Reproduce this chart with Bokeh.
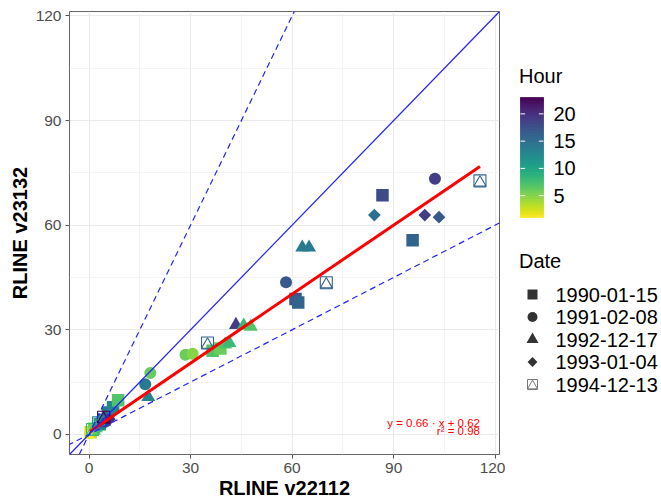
import numpy as np
from bokeh.plotting import figure
from bokeh.models import Range1d, FixedTicker, Slope, Label, LinearColorMapper
from bokeh.transform import transform
from bokeh.palettes import Viridis256
from bokeh.layouts import row
from bokeh.embed import file_html
from bokeh.resources import INLINE
from bokeh.core.properties import value

# Hourly concentrations: RLINE v22112 (x) against RLINE v23132 (y), per date
dates = ["1990-01-15", "1991-02-08", "1992-12-17", "1993-01-04", "1994-12-13"]

x_1990 = [0.5, 1.5, 3.2, 4.5, 5.6, 7.1, 8.6, 36.5, 38.8, 61.0, 61.8, 86.7, 95.6]
y_1990 = [0.6, 1.6, 2.9, 4.2, 6.3, 7.8, 9.8, 24.0, 24.6, 38.8, 37.8, 68.6, 55.7]
h_1990 = [3, 6, 11, 14, 14, 13, 7, 7, 6, 17, 16, 18, 16]

x_1991 = [0.3, 1.2, 2.5, 3.8, 4.8, 16.6, 18.1, 28.5, 30.6, 58.2, 102.2]
y_1991 = [0.4, 1.0, 2.2, 3.1, 3.6, 14.4, 17.6, 22.8, 23.1, 43.6, 73.3]
h_1991 = [2, 5, 9, 12, 17, 14, 6, 6, 5, 17, 19]

x_1992 = [0.8, 2.0, 3.5, 5.0, 17.5, 40.2, 41.5, 43.4, 45.7, 47.8, 63.0, 65.0]
y_1992 = [0.9, 1.8, 3.6, 4.8, 10.7, 25.8, 26.2, 31.4, 31.2, 30.9, 53.6, 53.6]
h_1992 = [4, 7, 10, 16, 13, 7, 8, 19, 8, 7, 14, 14]

x_1993 = [0.6, 1.8, 2.9, 4.1, 6.0, 84.3, 99.2, 103.4]
y_1993 = [0.3, 1.3, 2.4, 3.0, 4.3, 62.9, 62.9, 62.3]
h_1993 = [1, 6, 11, 18, 20, 15, 19, 17]

x_1994 = [1.0, 2.8, 4.3, 35.0, 70.1, 115.5]
y_1994 = [1.4, 3.3, 4.9, 26.2, 43.5, 72.7]
h_1994 = [8, 13, 23, 16, 16, 16]

fit_slope = 0.66
fit_intercept = 0.62
fit_r2 = 0.98

axis_ticks = [0, 30, 60, 90, 120]
axis_minor = [15, 45, 75, 105]
hour_ticks = [5, 10, 15, 20]

FONT = "Liberation Sans"

all_x = x_1990 + x_1991 + x_1992 + x_1993 + x_1994
all_y = y_1990 + y_1991 + y_1992 + y_1993 + y_1994
all_h = h_1990 + h_1991 + h_1992 + h_1993 + h_1994
h_low, h_high = min(all_h), max(all_h)

# reversed viridis: early hours yellow, late hours purple
palette = list(Viridis256[::-1])
mapper = LinearColorMapper(palette=palette, low=h_low, high=h_high)

lo = 0.0
hi = max(max(all_x), max(all_y))
pad = 0.05 * (hi - lo)
rng = (lo - pad, hi + pad)

W_MAIN, H = 505, 502
B_LEFT, B_RIGHT, B_TOP, B_BOTTOM = 69, 6, 11, 48

p = figure(width=W_MAIN, height=H, x_range=Range1d(*rng), y_range=Range1d(*rng),
           output_backend="svg", toolbar_location=None,
           min_border_left=B_LEFT, min_border_right=B_RIGHT,
           min_border_top=B_TOP, min_border_bottom=B_BOTTOM,
           background_fill_color="white", border_fill_color="white")

ticker = FixedTicker(ticks=axis_ticks, minor_ticks=axis_minor)
for ax in (p.xaxis[0], p.yaxis[0]):
    ax.ticker = ticker
    ax.axis_line_color = None
    ax.major_tick_line_color = "#555555"
    ax.major_tick_out = 4
    ax.major_tick_in = 0
    ax.minor_tick_out = 0
    ax.minor_tick_in = 0
    ax.major_label_text_font = FONT
    ax.major_label_text_font_size = "15.5px"
    ax.major_label_text_color = "#4D4D4D"
    ax.axis_label_text_font = FONT
    ax.axis_label_text_font_size = "20px"
    ax.axis_label_text_font_style = "bold"
    ax.axis_label_text_color = "black"
p.xaxis.axis_label = "RLINE v22112"
p.yaxis.axis_label = "RLINE v23132"
p.xaxis.major_label_standoff = 4
p.xaxis.axis_label_standoff = 1
p.yaxis.major_label_standoff = 4
p.yaxis.axis_label_standoff = 2

p.grid.grid_line_color = "#EBEBEB"
p.grid.grid_line_width = 1
p.grid.minor_grid_line_color = "#F4F4F4"
p.grid.minor_grid_line_width = 1
p.outline_line_color = "#666666"
p.outline_line_width = 1

# points, one marker per date
SQ, CI, TR, DI, OP = 12.5, 12, 14, 9, 12
cmap = transform("h", mapper)
p.scatter(x="x", y="y", source=dict(x=x_1990, y=y_1990, h=h_1990), marker="square",
          size=SQ, fill_color=cmap, line_color=None)
p.scatter(x="x", y="y", source=dict(x=x_1991, y=y_1991, h=h_1991), marker="circle",
          size=CI, fill_color=cmap, line_color=None)
p.scatter(x="x", y="y", source=dict(x=x_1992, y=y_1992, h=h_1992), marker="triangle",
          size=TR, fill_color=cmap, line_color=None)
p.scatter(x="x", y="y", source=dict(x=x_1993, y=y_1993, h=h_1993), marker="square",
          angle=np.pi / 4, size=DI, fill_color=cmap, line_color=None)

# open square with inscribed triangle; nudge the triangle so it sits inside the square
frame_h = H - B_TOP - B_BOTTOM
px_per_unit = frame_h / (rng[1] - rng[0])
tri_shift_px = OP * np.sqrt(3) / 2 / 6.0  # centroid offset of a centered triangle
y_1994_tri = [v - tri_shift_px / px_per_unit for v in y_1994]
p.scatter(x="x", y="y", source=dict(x=x_1994, y=y_1994, h=h_1994), marker="square",
          size=OP, fill_color=None, line_color=cmap, line_width=1.1)
p.scatter(x="x", y="y", source=dict(x=x_1994, y=y_1994_tri, h=h_1994), marker="triangle",
          size=OP, fill_color=None, line_color=cmap, line_width=1.1)

# linear fit over the data extent
fx = [min(all_x), max(all_x)]
fy = [fit_slope * v + fit_intercept for v in fx]
p.line(fx, fy, line_color="red", line_width=3)

# 1:1 and 1:2 / 2:1 reference lines
p.add_layout(Slope(gradient=1, y_intercept=0, line_color="#2222FF", line_width=1.2))
p.add_layout(Slope(gradient=2, y_intercept=0, line_color="#2222FF", line_width=1.2,
                   line_dash="6 4"))
p.add_layout(Slope(gradient=0.5, y_intercept=0, line_color="#2222FF", line_width=1.2,
                   line_dash="6 4"))

eq_text = f"y = {fit_slope:.2f} \u00b7 x + {fit_intercept:.2f}"
r2_text = f"r\u00b2 = {fit_r2:.2f}"
p.add_layout(Label(x=max(all_x), y=3.3, text=eq_text, text_align="right",
                   text_baseline="middle", text_color="red", text_font=FONT,
                   text_font_size="11.5px"))
p.add_layout(Label(x=max(all_x), y=0.9, text=r2_text, text_align="right",
                   text_baseline="middle", text_color="red", text_font=FONT,
                   text_font_size="11.5px"))

# ---- legend panel: colour bar for Hour and marker key for Date ----
# the row aligns this panel's frame with the main frame, so its y range is
# set to page pixels between the same top and bottom borders
W_LEG = 661 - W_MAIN
lg = figure(width=W_LEG, height=H, x_range=Range1d(0, W_LEG),
            y_range=Range1d(H - B_BOTTOM, B_TOP),
            output_backend="svg", toolbar_location=None, min_border_left=0,
            min_border_right=0, min_border_top=B_TOP, min_border_bottom=B_BOTTOM,
            x_axis_location=None, y_axis_location=None, outline_line_color=None,
            background_fill_color="white", border_fill_color="white")
lg.grid.visible = False

TITLE_X = 13.5
lg.text(x=[TITLE_X], y=[75], text=["Hour"], text_font=value(FONT),
        text_font_size="20px", text_baseline="middle", text_align="left", text_color="black")

bar_left, bar_right, bar_top, bar_bottom = 15, 38, 97, 217


def hour_to_y(h):
    return bar_bottom - (np.asarray(h, dtype=float) - h_low) / (h_high - h_low) * (bar_bottom - bar_top)


n = 200
edges = np.linspace(h_low, h_high, n + 1)
bar_src = dict(left=[bar_left] * n, right=[bar_right] * n,
               top=hour_to_y(edges[1:]), bottom=hour_to_y(edges[:-1]),
               h=(edges[1:] + edges[:-1]) / 2)
lg.quad(left="left", right="right", top="top", bottom="bottom", source=bar_src,
        fill_color=transform("h", mapper), line_color=transform("h", mapper), line_width=0.6)
ty = hour_to_y(hour_ticks)
tick_len = (bar_right - bar_left) / 5
lg.segment(x0=[bar_left] * len(ty), x1=[bar_left + tick_len] * len(ty), y0=ty, y1=ty,
           line_color="white", line_width=1)
lg.segment(x0=[bar_right - tick_len] * len(ty), x1=[bar_right] * len(ty), y0=ty, y1=ty,
           line_color="white", line_width=1)
lg.text(x=[48] * len(ty), y=ty, text=[str(t) for t in hour_ticks], text_font=value(FONT),
        text_font_size="20px", text_baseline="middle", text_align="left", text_color="black")

lg.text(x=[TITLE_X], y=[260], text=["Date"], text_font=value(FONT),
        text_font_size="20px", text_baseline="middle", text_align="left", text_color="black")
key_y = [294, 316.5, 339, 361.5, 384]
key_x = 27
KEY = "#333333"
lg.scatter([key_x], [key_y[0]], marker="square", size=10, fill_color=KEY, line_color=None)
lg.scatter([key_x], [key_y[1]], marker="circle", size=10, fill_color=KEY, line_color=None)
lg.scatter([key_x], [key_y[2]], marker="triangle", size=12, fill_color=KEY, line_color=None)
lg.scatter([key_x], [key_y[3]], marker="square", angle=np.pi / 4, size=7,
           fill_color=KEY, line_color=None)
lg.scatter([key_x], [key_y[4]], marker="square", size=10, fill_color=None,
           line_color="#777777", line_width=1)
lg.scatter([key_x], [key_y[4] + 10 * np.sqrt(3) / 2 / 6.0], marker="triangle", size=10,
           fill_color=None, line_color="#777777", line_width=1)
lg.text(x=[50] * len(dates), y=key_y, text=dates, text_font=value(FONT),
        text_font_size="20px", text_baseline="middle", text_align="left", text_color="black")

layout = row(p, lg)
open("out.html", "w").write(file_html(layout, INLINE))
